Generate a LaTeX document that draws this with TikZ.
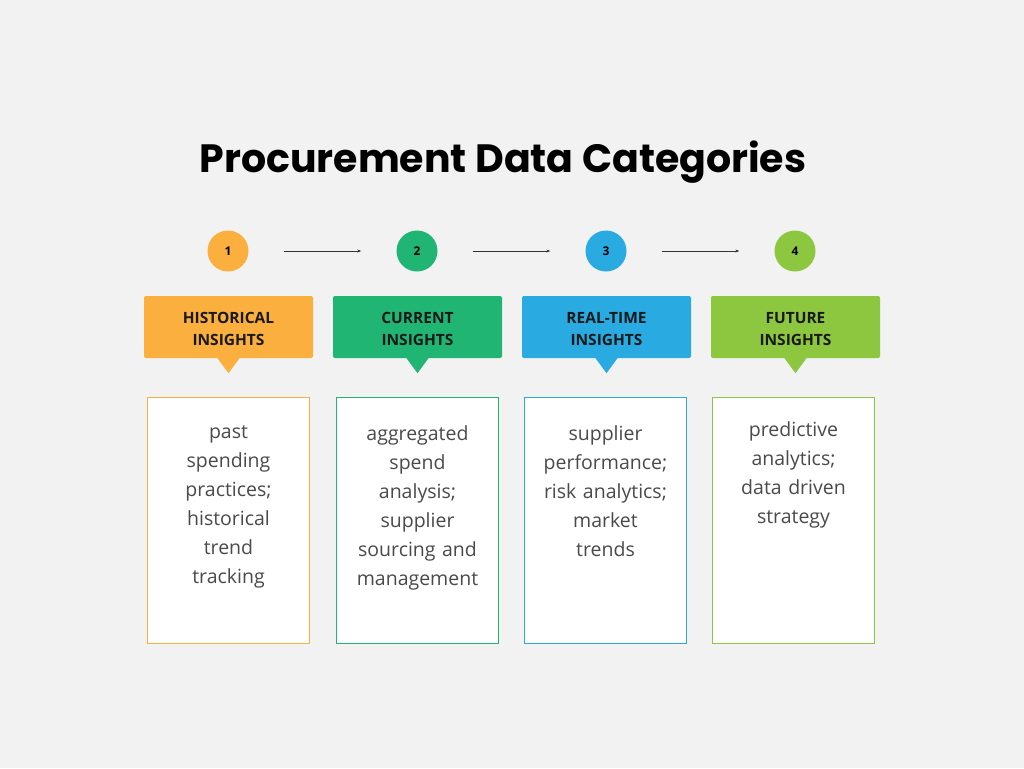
\documentclass[tikz,border=0pt]{standalone}
\usepackage{fontspec}
\setmainfont{Open Sans}
\newfontfamily\titlefont{Poppins}
\usetikzlibrary{positioning,arrows.meta,calc}

\definecolor{fundo}{HTML}{F2F2F2}
\definecolor{laranja}{HTML}{FBAF3F}
\definecolor{verde}{HTML}{21B573}
\definecolor{azul}{HTML}{29ABE2}
\definecolor{lima}{HTML}{8DC63F}
\definecolor{cinza}{HTML}{4A4A4A}

\begin{document}
\begin{tikzpicture}[
  x=1pt, y=-1pt,
  node distance=39pt and 20pt,
  num/.style={circle, minimum size=41pt, inner sep=0pt,
              font=\bfseries\fontsize{12}{14}\selectfont},
  header/.style={rectangle, rounded corners=2pt, minimum width=169pt,
                 minimum height=62pt, inner sep=0pt},
  headtext/.style={text width=160pt, align=center, inner sep=0pt,
                   text=black!90, font=\bfseries\fontsize{15.5}{22}\selectfont},
  card/.style={rectangle, fill=white, line width=0.8pt,
               minimum width=162pt, minimum height=246pt, inner sep=0pt},
  cardtext/.style={anchor=north, text width=150pt, align=center, inner sep=0pt,
                   text=cinza, font=\fontsize{19.5}{29}\selectfont},
  link/.style={-{Stealth[length=4pt, width=3pt]}, line width=0.6pt, draw=black!80,
               shorten <=35pt, shorten >=35pt}
]

% ---------------- Fundo ----------------
\fill[fundo] (0,0) rectangle (1024,768);

% ---------------- Titulo ----------------
\node[font=\titlefont\bfseries\fontsize{39.5}{46}\selectfont] (title) at (503,162)
  {Procurement Data Categories};

% ---------------- Numeros ----------------
\node[num, fill=laranja] (c1) at (228,251) {1};
\node[num, fill=verde]   (c2) at (417,251) {2};
\node[num, fill=azul]    (c3) at (606,251) {3};
\node[num, fill=lima]    (c4) at (795,251) {4};

% ---------------- Cabecalhos ----------------
\node[header, fill=laranja] (h1) at (228.5,327) {};
\node[header, fill=verde]   (h2) at (417.5,327) {};
\node[header, fill=azul]    (h3) at (606.5,327) {};
\node[header, fill=lima]    (h4) at (795.5,327) {};

\fill[laranja] ($(h1.south)+(-11pt,0)$) -- ($(h1.south)+(11pt,0)$) -- ($(h1.south)+(0,-15pt)$) -- cycle;
\fill[verde]   ($(h2.south)+(-11pt,0)$) -- ($(h2.south)+(11pt,0)$) -- ($(h2.south)+(0,-15pt)$) -- cycle;
\fill[azul]    ($(h3.south)+(-11pt,0)$) -- ($(h3.south)+(11pt,0)$) -- ($(h3.south)+(0,-15pt)$) -- cycle;
\fill[lima]    ($(h4.south)+(-11pt,0)$) -- ($(h4.south)+(11pt,0)$) -- ($(h4.south)+(0,-15pt)$) -- cycle;

\node[headtext, below=3pt of h1.center, anchor=center] (l1) {\strut HISTORICAL\\INSIGHTS\strut};
\node[headtext, below=3pt of h2.center, anchor=center] (l2) {\strut CURRENT\\INSIGHTS\strut};
\node[headtext, below=3pt of h3.center, anchor=center] (l3) {\strut REAL-TIME\\INSIGHTS\strut};
\node[headtext, below=3pt of h4.center, anchor=center] (l4) {\strut FUTURE\\INSIGHTS\strut};

% ---------------- Cartoes ----------------
\node[card, draw=laranja, below=of h1]             (b1) {};
\node[card, draw=verde,   below=of h2]             (b2) {};
\node[card, draw=azul,    below=of h3, xshift=-1pt] (b3) {};
\node[card, draw=lima,    below=of h4, xshift=-2pt] (b4) {};

\node[cardtext, below=28pt of b1.north] (t1)
  {past\\spending\\practices;\\historical\\trend\\tracking};
\node[cardtext, below=28pt of b2.north] (t2)
  {aggregated\\spend\\analysis;\\supplier\\sourcing and\\management};
\node[cardtext, below=28pt of b3.north] (t3)
  {supplier\\performance;\\risk analytics;\\market\\trends};
\node[cardtext, below=24pt of b4.north] (t4)
  {predictive\\analytics;\\data driven\\strategy};

% ---------------- Setas ----------------
\draw[link] (c1) -- (c2);
\draw[link] (c2) -- (c3);
\draw[link] (c3) -- (c4);

\end{tikzpicture}
\end{document}
